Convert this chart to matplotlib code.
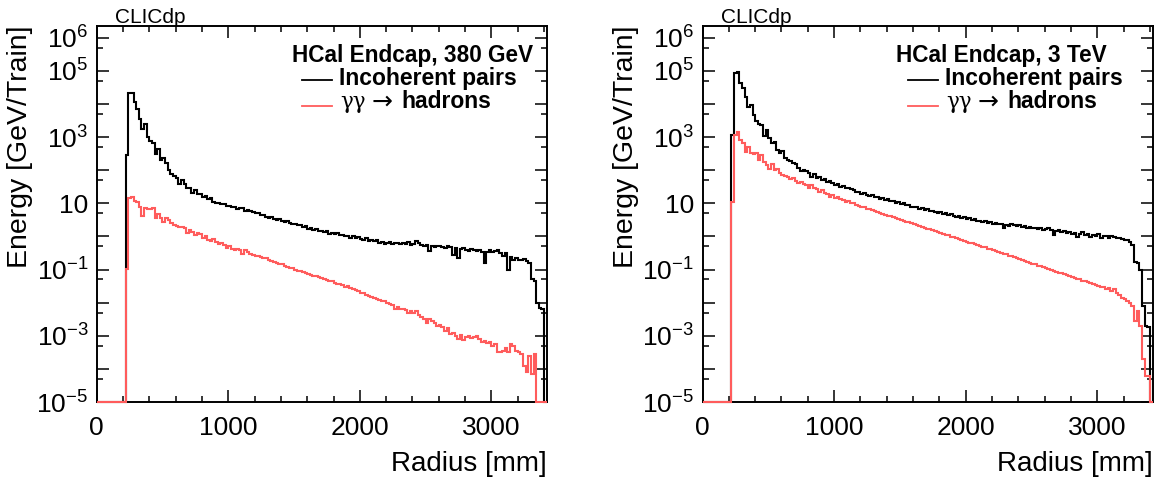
import numpy as np
import matplotlib.pyplot as plt
from matplotlib.ticker import FixedLocator, FuncFormatter, MultipleLocator, NullFormatter
from matplotlib.lines import Line2D

plt.rcParams['font.family'] = ['Liberation Sans', 'DejaVu Sans']
plt.rcParams['mathtext.fontset'] = 'custom'
plt.rcParams['mathtext.rm'] = 'Liberation Sans'
plt.rcParams['mathtext.it'] = 'Liberation Sans:italic'
plt.rcParams['mathtext.bf'] = 'Liberation Sans:bold'

# binning of the radius histograms (mm)
bin_width = 20
first_bin = 220
r_max = 3420

# log10(energy [GeV/Train]) per 20 mm bin, starting at 220 mm
pairs_380 = [2.45, 4.32, 4.34, 4.05, 3.85, 3.55, 3.25, 3.38, 3.0, 2.88,
             2.82, 2.5, 2.65, 2.3, 2.38, 2.22, 2.0, 1.88, 1.82, 1.76,
             1.58, 1.7, 1.57, 1.47, 1.47, 1.3, 1.4, 1.28, 1.27, 1.18,
             1.22, 1.12, 1.16, 1.05, 1.0, 1.0, 0.97, 0.99, 0.93, 0.92,
             0.88, 0.9, 0.84, 0.86, 0.85, 0.78, 0.8, 0.76, 0.74, 0.7,
             0.72, 0.64, 0.66, 0.6, 0.56, 0.6, 0.52, 0.5, 0.53, 0.46,
             0.44, 0.47, 0.4, 0.37, 0.38, 0.33, 0.35, 0.28, 0.3, 0.22,
             0.24, 0.2, 0.23, 0.16, 0.17, 0.13, 0.15, 0.08, 0.1, 0.06,
             0.09, 0.04, 0.05, 0.0, 0.02, -0.04, 0.0, -0.06, -0.02, -0.08,
             -0.1, -0.06, -0.13, -0.1, -0.15, -0.12, -0.2, -0.16, -0.22, -0.2,
             -0.18, -0.22, -0.19, -0.2, -0.24, -0.2, -0.22, -0.16, -0.25, -0.22,
             -0.14, -0.2, -0.25, -0.3, -0.27, -0.45, -0.28, -0.32, -0.3, -0.28,
             -0.33, -0.35, -0.3, -0.32, -0.55, -0.36, -0.65, -0.38, -0.35, -0.4,
             -0.45, -0.38, -0.42, -0.45, -0.4, -0.48, -0.8, -0.46, -0.42, -0.48,
             -0.44, -0.4, -0.5, -0.6, -0.5, -1.0, -0.62, -0.72, -0.65, -0.7,
             -0.72, -0.68, -0.75, -0.8, -1.3, -1.35, -2.0, -2.15, -2.18]

hadrons_380 = [-0.97, 1.15, 1.18, 1.08, 1.05, 0.88, 0.62, 0.86, 0.83, 0.84,
               0.85, 0.56, 0.68, 0.57, 0.45, 0.55, 0.5, 0.4, 0.34, 0.3,
               0.28, 0.29, 0.24, 0.1, 0.18, 0.13, 0.05, 0.09, 0.06, -0.06,
               0.0, -0.1, -0.14, -0.07, -0.17, -0.24, -0.2, -0.25, -0.36, -0.3,
               -0.37, -0.4, -0.39, -0.42, -0.52, -0.42, -0.48, -0.52, -0.55, -0.58,
               -0.6, -0.62, -0.66, -0.64, -0.72, -0.74, -0.78, -0.8, -0.84, -0.83,
               -0.9, -0.92, -0.96, -0.95, -1.02, -1.04, -1.03, -1.08, -1.1, -1.14,
               -1.16, -1.19, -1.2, -1.24, -1.27, -1.3, -1.32, -1.36, -1.34, -1.4,
               -1.44, -1.45, -1.48, -1.52, -1.5, -1.57, -1.6, -1.62, -1.66, -1.7,
               -1.72, -1.76, -1.8, -1.82, -1.86, -1.88, -1.92, -1.96, -1.95, -2.02,
               -2.05, -2.08, -2.2, -2.12, -2.18, -2.2, -2.22, -2.32, -2.25, -2.3,
               -2.24, -2.38, -2.42, -2.48, -2.62, -2.5, -2.56, -2.6, -2.72, -2.66,
               -2.75, -2.85, -2.78, -2.96, -2.92, -3.0, -3.1, -2.98, -3.12, -3.05,
               -3.02, -3.08, -3.04, -3.0, -3.1, -3.18, -3.15, -3.22, -3.2, -3.3,
               -3.25, -3.48, -3.5, -3.45, -3.38, -3.48, -3.25, -3.3, -3.46, -3.5,
               -3.56, -3.9, -4.1, -3.6, -4.15, -3.55]

pairs_3tev = [3.06, 4.92, 4.95, 4.62, 4.47, 4.22, 3.92, 3.97, 3.66, 3.48,
              3.4, 3.36, 3.03, 3.2, 2.96, 2.82, 2.86, 2.62, 2.53, 2.57,
              2.38, 2.32, 2.28, 2.22, 2.18, 2.07, 1.97, 1.99, 1.96, 1.92,
              1.8, 1.87, 1.76, 1.78, 1.7, 1.72, 1.63, 1.67, 1.6, 1.54,
              1.57, 1.49, 1.53, 1.46, 1.47, 1.42, 1.4, 1.34, 1.35, 1.28,
              1.3, 1.26, 1.22, 1.24, 1.18, 1.2, 1.14, 1.16, 1.1, 1.12,
              1.06, 1.08, 1.02, 1.04, 0.98, 1.0, 0.94, 0.96, 0.9, 0.88,
              0.9, 0.84, 0.86, 0.8, 0.82, 0.76, 0.78, 0.74, 0.72, 0.74,
              0.68, 0.7, 0.64, 0.67, 0.62, 0.6, 0.62, 0.57, 0.58, 0.54,
              0.56, 0.5, 0.52, 0.47, 0.48, 0.44, 0.46, 0.41, 0.42, 0.38,
              0.4, 0.36, 0.38, 0.24, 0.34, 0.32, 0.36, 0.33, 0.3, 0.34,
              0.28, 0.3, 0.26, 0.28, 0.25, 0.26, 0.22, 0.24, 0.2, 0.22,
              0.24, 0.18, 0.05, 0.16, 0.18, 0.14, 0.16, 0.1, 0.12, 0.08,
              0.1, -0.02, 0.08, 0.12, 0.04, 0.06, -0.02, 0.04, 0.02, 0.06,
              -0.05, 0.02, 0.0, -0.04, 0.0, -0.02, -0.04, -0.06, -0.08, -0.1,
              -0.12, -0.16, -0.25, -0.78, -0.8, -1.0, -2.1, -2.7, -2.75]

hadrons_3tev = [1.05, 3.06, 3.14, 2.91, 2.81, 2.56, 2.71, 2.51, 2.48, 2.51,
                2.3, 2.46, 2.25, 2.15, 2.05, 2.2, 2.0, 2.05, 1.9, 1.85,
                1.83, 1.8, 1.73, 1.77, 1.67, 1.6, 1.65, 1.57, 1.55, 1.47,
                1.55, 1.45, 1.43, 1.35, 1.4, 1.3, 1.27, 1.2, 1.25, 1.15,
                1.2, 1.13, 1.1, 1.05, 1.07, 1.0, 1.0, 0.96, 0.93, 0.9,
                0.88, 0.84, 0.82, 0.8, 0.76, 0.75, 0.7, 0.69, 0.66, 0.62,
                0.61, 0.58, 0.55, 0.53, 0.5, 0.47, 0.45, 0.42, 0.4, 0.36,
                0.35, 0.31, 0.29, 0.26, 0.23, 0.21, 0.18, 0.15, 0.13, 0.1,
                0.08, 0.05, 0.03, -0.01, -0.02, -0.06, -0.08, -0.11, -0.13, -0.16,
                -0.19, -0.2, -0.24, -0.26, -0.28, -0.32, -0.33, -0.37, -0.39, -0.41,
                -0.45, -0.46, -0.5, -0.52, -0.54, -0.58, -0.6, -0.62, -0.66, -0.68,
                -0.7, -0.74, -0.76, -0.79, -0.82, -0.84, -0.88, -0.9, -0.92, -0.96,
                -0.98, -1.0, -1.04, -1.06, -1.1, -1.12, -1.14, -1.18, -1.2, -1.22,
                -1.26, -1.28, -1.3, -1.34, -1.36, -1.38, -1.42, -1.44, -1.46, -1.5,
                -1.52, -1.54, -1.6, -1.56, -1.64, -1.6, -1.7, -1.78, -1.86, -1.9,
                -1.96, -2.02, -2.1, -2.55, -2.25, -2.7, -3.7, -4.2, -4.2]

headers = ['HCal Endcap, 380 GeV', 'HCal Endcap, 3 TeV']

W, H = 1164, 479
ymin, ymax = 1e-5, 10 ** 6.353
red = '#ff5c5c'
edges = np.arange(0, r_max + bin_width, bin_width)


def full_hist(logvals):
    vals = np.full(len(edges) - 1, ymin)
    i0 = first_bin // bin_width
    vals[i0:i0 + len(logvals)] = 10.0 ** np.array(logvals)
    return vals


labelled = {6, 5, 3, 1, -1, -3, -5}


def ylab(v, pos):
    k = int(round(np.log10(v)))
    if k not in labelled:
        return ''
    if k == 1:
        return '10'
    return r'$\mathregular{10^{%d}}$' % k


def px(x, y):
    return x / W, 1 - y / H


fig = plt.figure(figsize=(W / 100, H / 100), dpi=100)

panels = [
    (96.7, pairs_380, hadrons_380, headers[0], 413),
    (702.5, pairs_3tev, hadrons_3tev, headers[1], 1001.5),
]

for x0, pairs, hadrons, header, hcx in panels:
    ax = fig.add_axes([x0 / W, 77 / H, 450 / W, 376 / H])
    ax.stairs(full_hist(pairs), edges, baseline=None, color='black',
              lw=1.5, zorder=3, clip_on=False)
    ax.stairs(full_hist(hadrons), edges, baseline=None, color=red,
              lw=1.5, zorder=3.1, clip_on=False)
    ax.set_yscale('log')
    ax.set_xlim(0, r_max)
    ax.set_ylim(ymin, ymax)

    ax.xaxis.set_major_locator(MultipleLocator(1000))
    ax.xaxis.set_minor_locator(MultipleLocator(200))
    ax.yaxis.set_major_locator(FixedLocator([10.0 ** k for k in range(-5, 7)]))
    ax.yaxis.set_minor_locator(FixedLocator([5 * 10.0 ** k for k in range(-6, 6)]))
    ax.yaxis.set_major_formatter(FuncFormatter(ylab))
    ax.yaxis.set_minor_formatter(NullFormatter())

    ax.tick_params(which='both', direction='in', top=True, right=True, width=1.1)
    ax.tick_params(which='major', length=8.5, labelsize=19)
    ax.tick_params(axis='x', which='major', pad=10)
    ax.tick_params(axis='y', which='major', pad=6)
    ax.tick_params(which='minor', length=4.5)
    for s in ax.spines.values():
        s.set_linewidth(1.4)

    ax.set_xlabel('Radius [mm]', fontsize=20, loc='right')
    ax.xaxis.set_label_coords(1.0, -0.13)
    ax.set_ylabel('Energy [GeV/Train]', fontsize=20.5, loc='top')
    ax.yaxis.set_label_coords(-0.142, 1.0)

    # CLICdp tag
    fig.text(*px(x0 + 18, 23), 'CLICdp', fontsize=15, ha='left', va='baseline')

    # legend
    dx = x0 - 96.7
    fig.text(*px(hcx, 61.7), header, fontsize=16.3, fontweight='bold',
             ha='center', va='baseline')
    fig.add_artist(Line2D([(301.7 + dx) / W, (331.7 + dx) / W],
                          [1 - 80 / H, 1 - 80 / H], color='black', lw=1.3))
    fig.add_artist(Line2D([(301.7 + dx) / W, (331.7 + dx) / W],
                          [1 - 106 / H, 1 - 106 / H], color=red, lw=1.3))
    fig.text(*px(339 + dx, 85), 'Incoherent pairs', fontsize=16.5,
             fontweight='bold', ha='left', va='baseline')
    fig.text(*px(340 + dx, 108.3), '\u03b3\u03b3', fontsize=15.5,
             family=['DejaVu Serif'], ha='left', va='baseline')
    fig.text(*px(372 + dx, 108.3), '\u2192', fontsize=18,
             family=['DejaVu Sans'], ha='left', va='baseline')
    fig.text(*px(401.7 + dx, 108.3), 'hadrons', fontsize=16.5,
             fontweight='bold', ha='left', va='baseline')

fig.savefig('out.png', dpi=100)
